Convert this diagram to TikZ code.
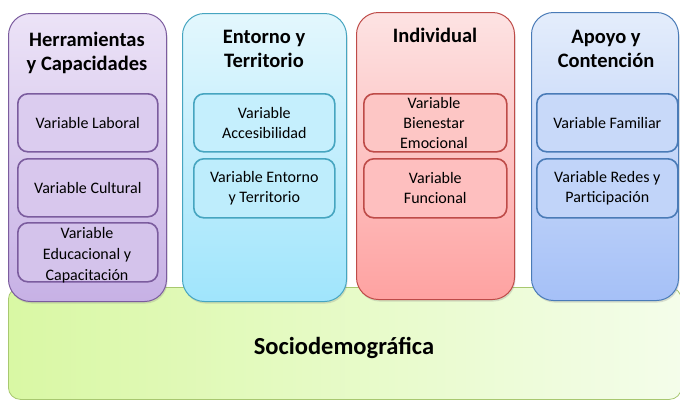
\documentclass[tikz,border=0pt]{standalone}
\usepackage{fontspec}
\setmainfont{Carlito}
\usetikzlibrary{shadows}
\definecolor{pTop}{HTML}{ECE3F7}
\definecolor{pBot}{HTML}{C7B1E5}
\definecolor{pLine}{HTML}{7B5C9E}
\definecolor{cTop}{HTML}{E3F7FD}
\definecolor{cBot}{HTML}{A0E5FC}
\definecolor{cLine}{HTML}{46A5C0}
\definecolor{rTop}{HTML}{FDE3E3}
\definecolor{rBot}{HTML}{FEA2A1}
\definecolor{rLine}{HTML}{BE4B48}
\definecolor{bTop}{HTML}{E4EDFB}
\definecolor{bBot}{HTML}{A5C0F7}
\definecolor{bLine}{HTML}{4A7BB7}
\definecolor{gLeft}{HTML}{D9F8A4}
\definecolor{gRight}{HTML}{F4FDEA}
\definecolor{gLine}{HTML}{A8C870}
\tikzset{
  column/.style={draw=#1, line width=1pt, rounded corners=22pt, anchor=north west,
    drop shadow={shadow xshift=1pt, shadow yshift=-2pt, opacity=0.25}},
  varbox/.style={draw=#1, line width=1.6pt, rounded corners=10pt, anchor=north west,
    align=center, font=\fontsize{16}{20}\selectfont, inner sep=0pt},
  coltitle/.style={anchor=north, align=center, font=\bfseries\fontsize{20.5}{24}\selectfont, inner sep=0pt},
}
\begin{document}
\begin{tikzpicture}[x=1pt,y=-1pt]
\useasboundingbox (0,0) rectangle (680,400);
% base bar
\node[draw=gLine, line width=0.8pt, rounded corners=12pt, left color=gLeft, right color=gRight,
  anchor=north west, minimum width=673pt, minimum height=112pt, inner sep=0pt] (socio) at (8,287) {};
\node[font=\bfseries\fontsize{24.5}{28}\selectfont] (sociot) at (344,348) {Sociodemográfica};
% columns
\node[column=pLine, top color=pTop, bottom color=pBot, minimum width=158pt, minimum height=288pt] (col1) at (8,13) {};
\node[column=cLine, top color=cTop, bottom color=cBot, minimum width=164pt, minimum height=288pt] (col2) at (182,13) {};
\node[column=rLine, top color=rTop, bottom color=rBot, minimum width=158pt, minimum height=287pt] (col3) at (356,12) {};
\node[column=bLine, top color=bTop, bottom color=bBot, minimum width=147pt, minimum height=288pt] (col4) at (531,12) {};
% titles
\node[coltitle] (t1) at (87,32) {Herramientas\\y Capacidades};
\node[coltitle] (t2) at (264,30) {Entorno y\\Territorio};
\node[coltitle] (t3) at (435,28) {Individual};
\node[coltitle] (t4) at (606,30) {Apoyo y\\Contención};
% variable boxes
\node[varbox=pLine, fill=pTop!55!pBot, minimum width=140pt, minimum height=58pt] (v11) at (17,93) {Variable Laboral};
\node[varbox=pLine, fill=pTop!45!pBot, minimum width=140pt, minimum height=58pt] (v12) at (17,158) {Variable Cultural};
\node[varbox=pLine, fill=pTop!35!pBot, minimum width=140pt, minimum height=59pt] (v13) at (17,222) {};
\node[align=center, font=\fontsize{16}{21}\selectfont, inner sep=0pt] (v13t) at (87,255) {Variable\\Educacional y\\Capacitación};
\node[varbox=cLine, fill=cTop!55!cBot, minimum width=141pt, minimum height=58pt] (v21) at (193,93) {Variable\\Accesibilidad};
\node[varbox=cLine, fill=cTop!45!cBot, minimum width=141pt, minimum height=59pt] (v22) at (193,158) {Variable Entorno\\y Territorio};
\node[varbox=rLine, fill=rTop!55!rBot, minimum width=143pt, minimum height=58pt] (v31) at (363,93) {};
\node[align=center, font=\fontsize{16}{20}\selectfont, inner sep=0pt] (v31t) at (434,123) {Variable\\Bienestar\\Emocional};
\node[varbox=rLine, fill=rTop!45!rBot, minimum width=143pt, minimum height=59pt] (v32) at (363,158) {Variable\\Funcional};
\node[varbox=bLine, fill=bTop!55!bBot, minimum width=141pt, minimum height=58pt] (v41) at (536,93) {Variable Familiar};
\node[varbox=bLine, fill=bTop!45!bBot, minimum width=141pt, minimum height=59pt] (v42) at (536,158) {Variable Redes y\\Participación};
\end{tikzpicture}
\end{document}
